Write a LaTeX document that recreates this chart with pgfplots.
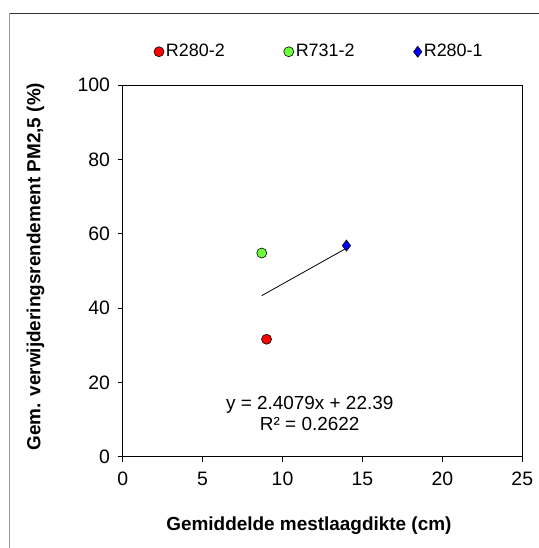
\documentclass[border=0pt]{standalone}
\usepackage{fontspec}
\setmainfont{Liberation Sans}
\usepackage{pgfplots}
\pgfplotsset{compat=1.18}
\definecolor{mred}{RGB}{255,0,0}
\definecolor{mgreen}{RGB}{110,255,60}
\definecolor{mblue}{RGB}{0,0,255}
\begin{document}
\fontsize{19.5}{22}\selectfont
\begin{tikzpicture}
\begin{axis}[
    at={(122.7bp,-456.7bp)}, anchor=south west,
    scale only axis, width=399.6bp, height=371.7bp,
    xmin=0, xmax=25, ymin=0, ymax=100,
    xtick={0,5,...,25}, ytick={0,20,...,100},
    tick align=outside, xtick pos=bottom, ytick pos=left,
    major tick length=5bp,
    tick style={black, line width=0.8bp},
    axis line style={black, line width=1bp},
    /pgf/number format/assume math mode=true,
    xticklabel style={yshift=-4bp},
    yticklabel style={xshift=-1bp},
    xlabel={\textbf{Gemiddelde mestlaagdikte (cm)}},
    ylabel={\textbf{Gem. verwijderingsrendement PM2,5 (\%)}},
    label style={font=\fontsize{19}{22}\selectfont},
    xlabel style={at={(axis description cs:0.466,-0.186)}, anchor=center},
    ylabel style={at={(axis description cs:-0.218,0.511)}, anchor=center},
    legend columns=3,
    legend cell align=left,
    legend style={at={(axis description cs:0.492,1.0895)}, anchor=center,
        draw=none, fill=none, font=\fontsize{18}{20}\selectfont,
        /tikz/every even column/.append style={column sep=57bp}},
    legend image code/.code={\draw[mark repeat=2,mark phase=2,#1] plot coordinates {(0bp,0bp)(5bp,0bp)(10bp,0bp)};},
]
    % trendline of all three points
    \addplot[black, line width=0.8bp, forget plot] coordinates {(8.7,43.34) (14.0,56.10)};
    \addplot[only marks, mark=*, mark size=5bp, mark options={draw=black, fill=mred, line width=0.6bp}] coordinates {(9.0,31.6)};
    \addplot[only marks, mark=*, mark size=5bp, mark options={draw=black, fill=mgreen, line width=0.6bp}] coordinates {(8.7,54.8)};
    \addplot[only marks, mark=diamond*, mark size=5.5bp, mark options={draw=black, fill=mblue, line width=0.6bp}] coordinates {(14.0,56.8)};
    \legend{R280-2, R731-2, R280-1}
    \node[align=center, font=\fontsize{19}{22}\selectfont] at (axis cs:11.7,11.6) {y = 2.4079x + 22.39\\[-1bp]R² = 0.2622};
\end{axis}
\draw[gray!80, line width=1.2bp] (9.7bp,-600bp) -- (9.7bp,-13.3bp);
\draw[black!80, line width=0.8bp] (9.7bp,-13.3bp) -- (600bp,-13.3bp);
\pgfresetboundingbox
\useasboundingbox (0,0) rectangle (539bp,-548bp);
\end{tikzpicture}
\end{document}
